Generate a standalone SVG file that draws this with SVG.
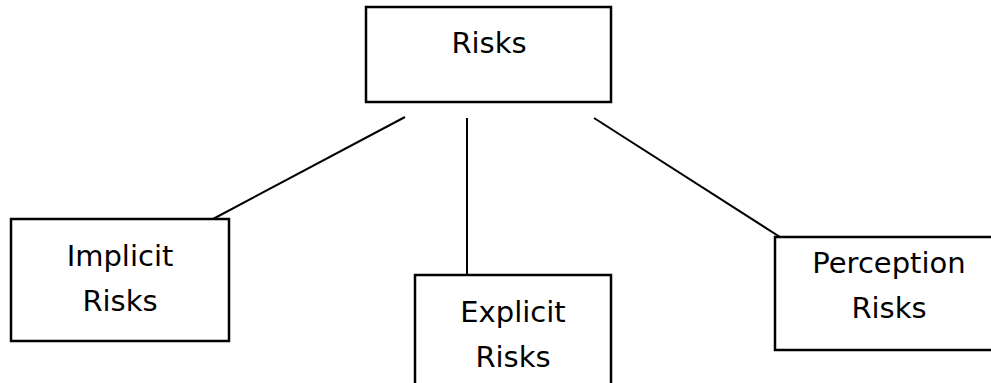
<svg xmlns="http://www.w3.org/2000/svg" width="991" height="383" viewBox="0 0 991 383">
<style>
.box{fill:#fff;stroke:#000;stroke-width:2.5}
.lbl{font-family:"DejaVu Sans",sans-serif;font-size:29px;fill:#000;text-anchor:middle}
.con line{stroke:#000;stroke-width:2}
</style>
<rect width="991" height="383" fill="#fff"/>
<g class="con" id="connectors">
<line x1="405" y1="117" x2="213" y2="219"/>
<line x1="467" y1="118" x2="467" y2="275"/>
<line x1="594" y1="118" x2="780" y2="237"/>
</g>
<g id="risks">
<rect class="box" x="366" y="7" width="245" height="95"/>
<text class="lbl" x="489" y="53">Risks</text>
</g>
<g id="implicit">
<rect class="box" x="11" y="219" width="218" height="122"/>
<text class="lbl" x="120" y="266">Implicit</text>
<text class="lbl" x="120" y="311">Risks</text>
</g>
<g id="explicit">
<rect class="box" x="415" y="275" width="196" height="120"/>
<text class="lbl" x="513" y="322">Explicit</text>
<text class="lbl" x="513" y="367">Risks</text>
</g>
<g id="perception">
<rect class="box" x="775" y="237" width="230" height="113"/>
<text class="lbl" x="889" y="273">Perception</text>
<text class="lbl" x="889" y="318">Risks</text>
</g>
</svg>
